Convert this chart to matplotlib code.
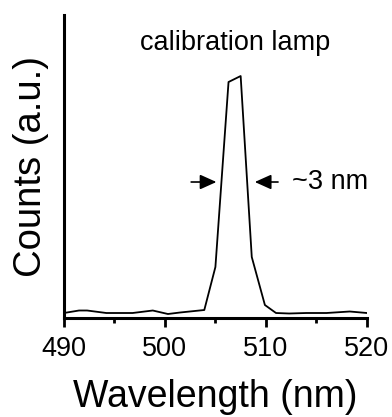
import matplotlib
matplotlib.use("Agg")
import matplotlib.pyplot as plt

plt.rcParams["font.family"] = ["Liberation Sans", "DejaVu Sans"]

# spectrum of the calibration lamp
wavelength = [490.0, 491.5, 492.3, 494.2, 496.8, 498.8, 500.3, 501.5, 503.9,
              505.0, 506.3, 507.5, 508.6, 509.9, 511.0, 512.3, 514.0, 516.0,
              518.3, 520.0]
counts = [5, 7.5, 7.5, 5, 5, 7.5, 4, 5.5, 8,
          51, 236, 242, 61, 13, 5, 4.5, 5, 5,
          6.5, 5]

xticks = [490, 500, 510, 520]
minor_ticks = [495, 505, 515]

fig = plt.figure(figsize=(3.92, 4.17), dpi=100)
ax = fig.add_axes([0.163, 0.2374, 0.773, 0.7266])
ax.plot(wavelength, counts, color="black", lw=1.3)

ax.set_xlim(490, 520)
ax.set_ylim(0, 303)
ax.set_xticks(xticks)
ax.set_xticks(minor_ticks, minor=True)
ax.set_yticks([])
ax.tick_params(axis="x", which="major", length=6.5, width=2, labelsize=19.5, pad=6.5)
ax.tick_params(axis="x", which="minor", length=3.5, width=2)
for s in ["top", "right"]:
    ax.spines[s].set_visible(False)
for s in ["left", "bottom"]:
    ax.spines[s].set_linewidth(2.2)

ax.set_xlabel("Wavelength (nm)", fontsize=27, labelpad=12)
ax.set_ylabel("Counts (a.u.)", fontsize=27.5, labelpad=11)

ax.text(507.0, 275, "calibration lamp", fontsize=19.5, ha="center", va="center")
ax.annotate("", xy=(505.1, 136), xytext=(502.6, 136),
            arrowprops=dict(arrowstyle="-|>,head_length=1.0,head_width=0.45",
                            color="black", lw=1.2, shrinkA=0, shrinkB=0))
ax.annotate("", xy=(508.9, 136), xytext=(511.2, 136),
            arrowprops=dict(arrowstyle="-|>,head_length=1.0,head_width=0.45",
                            color="black", lw=1.2, shrinkA=0, shrinkB=0))
ax.text(512.6, 136, "~3 nm", fontsize=19.5, ha="left", va="center")

fig.savefig("out.png", dpi=100)
